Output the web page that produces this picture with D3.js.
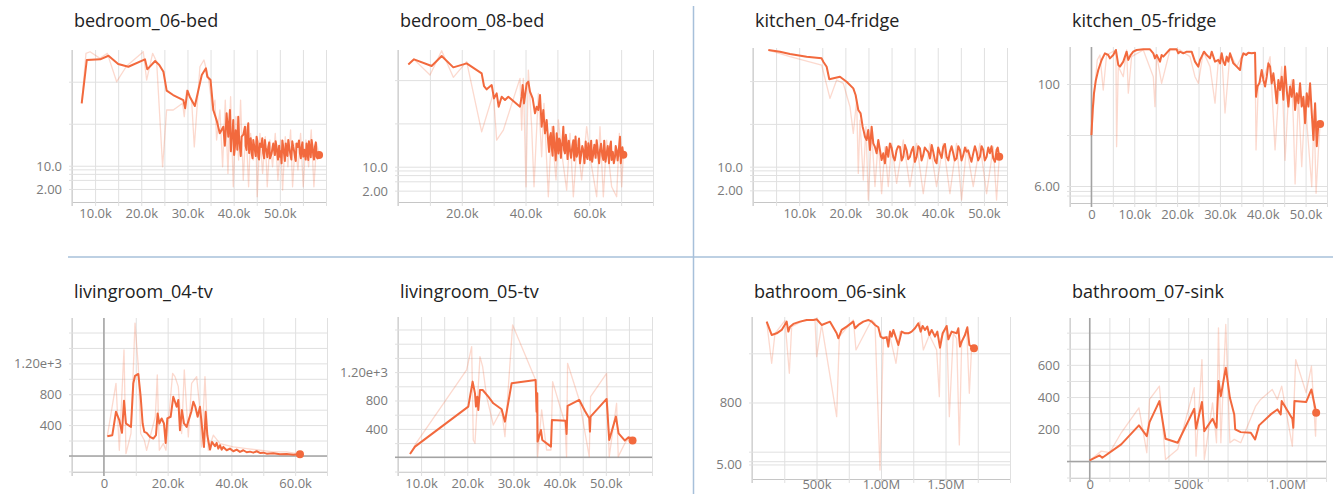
<!DOCTYPE html>
<html>
<head>
<meta charset="utf-8">
<script src="https://cdn.jsdelivr.net/npm/d3@7"></script>
<style>
  html, body { margin: 0; padding: 0; background: #fff; }
  svg { display: block; }
  .title { font-family: "Open Sans", sans-serif; font-size: 18px; fill: #222; }
  .axis text { font-family: "Open Sans", sans-serif; font-size: 13px; fill: #7a7a7a; }
</style>
</head>
<body>
<svg id="chart" width="1333" height="494"></svg>
<script>
// Training curves, steps in thousands. [step (k), value]
const bed06Main = [[7.1,306],[8.2,3290],[11.1,3410],[12.9,4160],[15.0,2640],[17.2,2275],[20.8,3410],[21.3,1970],[23.0,3110],[23.9,2500],[24.8,1730],[25.5,611],[26.9,482],[29.1,366],[29.5,233],[30.0,611],[30.5,440],[31.6,264],[33.1,1445],[34.0,2085],[34.3,1315],[35.0,1096],[35.6,212],[36.3,122],[37.0,59],[37.76,85],[38.48,177],[38.84,49],[39.2,212],[39.56,41],[39.92,122],[40.28,28],[40.64,59],[41.0,147],[41.36,28],[41.72,49],[42.45,85],[42.8,23.7],[43.17,102],[43.53,34],[43.9,19.7],[44.25,41],[44.6,23.7],[44.97,49],[45.33,16.4],[45.7,34],[46.4,19.7],[46.77,41],[47.13,21.5],[47.5,28],[47.86,15],[48.58,34],[48.94,18],[49.3,28],[50.02,16.4],[50.38,11.4],[50.74,28],[51.46,19.7],[51.83,41],[52.19,21.5],[52.9,28],[53.27,16.4],[53.63,34],[54.35,19.7],[54.71,28],[55.07,16.4],[55.8,34],[56.16,13.7],[56.5,26],[56.88,41],[57.24,18],[57.6,28],[57.96,16.4],[58.5,18],
  [38.1,30],[39.0,95],[39.4,22],[39.75,60],[40.1,18],[40.45,70],[40.8,24],[41.2,40],[41.55,17],[42.1,55],[42.6,30],[43.0,70],[43.35,20],[43.7,45],[44.1,15],[44.4,32],[44.8,17],[45.15,38],[45.5,14],[46.0,28],[46.2,45],[46.6,15],[46.95,26],[47.3,16],[47.7,36],[48.2,19],[48.75,24],[49.1,38],[49.6,14],[49.85,30],[50.2,22],[50.55,40],[51.1,13],[51.3,34],[51.65,17],[52.0,30],[52.5,14],[52.7,38],[53.1,22],[53.45,13],[53.9,28],[54.15,40],[54.55,15],[54.9,36],[55.3,24],[55.6,14],[55.95,22],[56.3,38],[56.7,16],[57.05,30],[57.4,14],[57.8,36],[58.2,15]];
const bed06Raw = [[7.09,306],[8.03,4740],[8.9,5170],[11.06,3600],[12.65,4740],[14.67,1000],[16.83,2365],[20.44,5170],[21.16,1096],[22.46,4740],[23.33,2990],[24.62,9.4],[25.49,212],[26.93,212],[28.95,306],[29.31,147],[29.82,634],[30.9,366],[31.48,28],[32.7,2275],[33.57,3290],[34.5,1315],[35.45,212],[35.95,366],[36.31,41],[37.03,212],[37.61,9.4],[38.19,366],[38.77,6.2],[39.34,440],[39.92,2.4],[40.5,147],[41.08,13.7],[41.5,366],[42.08,3.97],[42.66,85],[43.24,2.4],[43.67,59],[44.25,13.7],[44.83,41],[45.11,0.92],[45.69,59],[46.27,6.2],[46.85,49],[47.28,2.4],[47.86,41],[48.43,9.4],[49.01,59],[49.59,3.97],[50.17,41],[50.6,1.81],[51.18,49],[51.75,9.4],[52.33,70.8],[52.76,2.4],[53.34,34],[53.92,7.7],[54.5,59],[55.07,2.4],[55.65,41],[56.23,9.4],[56.8,70.8],[57.38,2.4],[57.96,34],[58.5,18]];

const bed08Main = [[3.24,2307],[5.02,3010],[10.56,2113],[13.7,3600],[17.36,1968],[21.54,2432],[26.25,1430],[26.98,730],[27.82,611],[29.39,769],[30.12,378],[30.95,494],[31.58,243],[32.52,414],[33.57,347],[34.61,414],[38.27,243],[38.8,414],[39.11,769],[39.53,290],[40.37,841],[40.89,918],[41.41,540],[42.25,378],[42.98,171],[43.5,243],[44.03,204],[44.55,452],[45.07,84],[45.59,204],[46.12,59],[46.64,120],[47.16,35],[47.69,49],[48.21,29],[48.73,84],[49.25,24],[49.78,59],[50.3,20.3],[50.82,41],[51.35,29],[51.87,84],[52.39,20.3],[52.92,35],[53.96,24],[55.01,41],[56.05,17],[56.58,29],[57.1,12],[58.14,24],[59.19,17],[59.71,35],[60.24,14.3],[61.28,20.3],[62.33,41],[62.85,17],[63.37,24],[64.42,14.3],[65.46,20.3],[66.51,29],[67.03,14.3],[68.08,17],[68.6,24],[69.65,49],[70.17,20.3],[70.69,19],
  [47.4,22],[47.95,60],[48.5,18],[49.0,40],[49.5,14],[50.05,32],[50.55,45],[51.1,16],[51.6,38],[52.1,24],[52.65,55],[53.2,15],[53.6,40],[54.3,16],[54.7,30],[55.3,14],[55.7,50],[56.3,20],[56.8,45],[57.4,18],[57.8,30],[58.5,12],[58.9,38],[59.45,15],[59.95,28],[60.6,40],[60.9,13],[61.6,32],[62.0,16],[62.6,26],[63.1,12],[63.7,34],[64.1,18],[64.7,40],[65.1,13],[65.8,30],[66.2,12],[66.8,38],[67.4,22],[67.7,12],[68.3,30],[68.9,14],[69.3,26],[69.9,12],[70.4,28]];
const bed08Raw = [[3.24,2307],[5.02,3010],[10.04,1309],[13.7,4770],[17.36,1157],[21.54,2660],[26.25,64],[29.91,494],[30.95,41],[33.05,70],[38.27,1097],[38.8,70],[39.32,1097],[40.16,2.7],[40.89,1707],[41.93,84],[42.67,2.7],[44.03,494],[45.07,17],[45.8,290],[47.16,1.14],[48.21,84],[49.57,4.4],[50.3,120],[51.66,14.3],[52.92,2.1],[53.96,59],[55.01,1.14],[56.26,41],[57.62,4.4],[59.19,84],[60.76,10],[62.33,1.14],[63.37,84],[64.42,1.14],[65.46,41],[67.03,2.7],[68.6,1.14],[69.44,59],[70.17,2.7],[70.69,19]];

const kit04Main = [[3.32,5320],[5.84,4860],[8.01,4290],[11.62,3715],[14.86,3400],[15.22,2840],[15.95,2170],[16.52,1100],[18.83,1267],[20.27,968],[21.72,676],[22.22,472],[22.8,211],[23.3,176],[23.74,86],[24.0,66],[24.24,50],[24.6,42],[24.96,72],[25.32,24.5],[25.69,86],[26.05,35],[26.41,29],[26.77,20.5],[27.13,42],[27.49,24.5],[27.85,14.3],[28.21,20.5],[28.57,12],[28.93,29],[29.29,17],[29.65,35],[30.37,17],[31.1,24.5],[31.82,29],[32.54,17],[33.26,24.5],[33.98,17],[34.7,29],[35.43,17],[36.15,26.7],[36.87,18.6],[37.59,24.5],[38.31,15.6],[39.03,22.4],[39.75,12],[40.48,20.5],[41.2,29],[41.92,17],[42.64,22.4],[43.36,20.5],[44.08,15.6],[44.81,24.5],[45.53,18.6],[46.25,22.4],[46.97,17],[47.69,20.5],[48.41,22.4],[49.13,17],[49.86,24.5],[50.58,17],[51.3,20.5],[52.02,15.6],[52.74,24.5],[53.32,17],
  [30.0,28],[30.7,14],[31.45,30],[32.2,14],[32.9,32],[33.6,15],[34.35,24],[35.05,13],[35.8,30],[36.5,14],[37.2,28],[37.95,22],[38.7,32],[39.4,14],[40.1,28],[40.85,16],[41.55,34],[42.3,14],[43.0,30],[43.7,14],[44.45,30],[45.15,14],[45.9,28],[46.6,24],[47.3,13],[48.05,30],[48.75,14],[49.5,30],[50.2,14],[50.95,28],[51.65,30],[52.4,13],[53.0,28]];
const kit04Raw = [[3.32,5320],[8.01,3715],[14.86,2372],[16.67,395],[18.11,1059],[19.55,885],[21.0,252],[21.72,60],[22.44,361],[22.8,6.6],[23.16,123],[23.88,4.3],[24.46,86],[24.96,0.74],[25.69,72],[26.41,2.7],[27.13,42],[27.85,1.5],[28.57,29],[29.29,2.7],[30.01,35],[31.1,3.4],[32.54,42],[33.98,2.7],[35.43,35],[36.87,1.5],[38.31,35],[39.75,2.7],[41.2,35],[42.64,1.5],[44.08,35],[45.17,0.74],[46.25,29],[47.69,2.7],[49.13,35],[50.58,1.5],[52.02,29],[52.74,0.74],[53.32,17]];

const kit05Main = [[0,10],[0.3,31],[0.6,66],[1.05,120],[1.6,188],[2.38,296],[3.15,399],[3.93,370],[4.32,318],[5.1,370],[5.72,464],[6.27,236],[6.66,219],[7.44,274],[8.22,430],[8.61,296],[9.15,370],[9.77,430],[10.55,464],[12.11,479],[13.67,479],[14.45,399],[14.84,318],[15.23,370],[16.01,274],[16.39,370],[16.78,344],[18.34,479],[19.9,479],[20.29,399],[20.68,430],[21.46,399],[22.24,430],[23.4,430],[24.18,274],[24.96,219],[25.35,296],[25.74,344],[26.29,430],[26.91,370],[27.69,318],[28.08,430],[28.86,274],[29.64,296],[30.03,254],[30.42,399],[30.8,274],[31.19,236],[31.58,344],[31.97,274],[32.36,399],[33.14,254],[33.92,219],[34.7,188],[35.09,318],[35.48,399],[36.1,370],[36.64,410],[37.42,399],[38.2,410],[38.43,56],[38.75,89],[39.21,103],[39.76,188],[40.15,120],[40.54,89],[40.93,139],[41.32,254],[41.71,219],[42.09,103],[42.48,162],[42.87,89],[43.26,42],[43.65,120],[44.04,76],[44.43,139],[44.82,49],[45.21,219],[45.6,76],[45.99,36],[46.38,89],[46.77,56],[47.16,120],[47.55,31],[47.94,66],[48.33,42],[48.71,103],[49.1,36],[49.49,56],[49.88,17],[50.27,66],[50.66,36],[51.05,103],[51.44,27],[51.83,8],[52.22,42],[52.61,6],[53.0,17],[53.39,16.5]];
const kit05Raw = [[0,9.3],[0.82,89],[1.36,296],[1.99,370],[2.76,76],[3.54,370],[5.72,464],[5.88,5.9],[6.27,219],[7.44,139],[8.22,464],[8.61,66],[9.38,344],[12.11,464],[14.45,139],[14.84,36],[15.23,370],[16.39,103],[18.34,464],[20.68,464],[23.01,344],[24.18,139],[24.96,103],[26.13,430],[27.69,219],[28.86,42],[29.64,296],[30.42,399],[31.19,27],[32.36,399],[33.92,219],[35.48,399],[38.2,399],[38.43,5.1],[38.98,103],[40.15,120],[41.71,344],[42.87,5.1],[43.65,56],[44.43,219],[45.21,3.2],[45.99,56],[46.77,120],[47.16,17],[47.55,1.1],[48.33,56],[49.1,2.4],[49.88,49],[50.66,6.9],[51.44,0.97],[51.99,31],[52.45,0.72],[53.0,5.1],[53.39,16.5]];

const liv04Main = [[1.08,256],[2.65,269],[3.8,573],[4.84,464],[5.68,299],[6.31,716],[6.93,421],[7.67,399],[8.5,377],[9.23,941],[9.76,1037],[10.8,1063],[11.54,768],[12.16,421],[12.68,312],[13.41,299],[14.46,247],[15.5,226],[16.35,269],[16.87,551],[17.39,421],[18.12,486],[18.85,421],[19.38,169],[19.9,486],[20.95,508],[21.78,768],[22.31,703],[22.83,638],[23.35,724],[23.87,334],[24.5,594],[25.13,421],[25.97,377],[26.6,464],[27.43,573],[28.06,703],[28.69,638],[29.42,508],[30.15,638],[30.78,377],[31.4,117],[31.93,573],[32.45,269],[33.29,82],[33.92,182],[34.86,126],[35.38,169],[35.9,95],[36.43,139],[36.95,82],[37.47,117],[38.52,74],[39.56,95],[40.61,61],[41.66,82],[42.7,52],[43.75,74],[44.8,48],[45.84,56],[46.89,43],[47.93,61],[48.97,39],[50.02,43],[51.07,30],[53.16,35],[55.25,22],[57.34,26],[59.43,17],[61.52,22]];
const liv04Raw = [[1.08,256],[3.8,941],[4.84,74],[6.31,1375],[6.93,30],[8.5,291],[9.76,1722],[10.8,1158],[11.54,291],[12.68,204],[13.41,74],[16.14,508],[16.76,1050],[17.39,74],[18.65,160],[19.48,74],[21.57,1071],[22.31,1028],[23.35,898],[24.4,291],[25.23,1115],[26.49,247],[27.53,941],[29.1,1028],[29.94,681],[30.67,117],[31.72,1028],[32.76,74],[34.33,269],[36.43,160],[40.61,117],[44.8,95],[48.97,74],[53.16,52],[57.34,52],[61.52,22]];

const liv05Main = [[7.6,47],[8.68,150],[20.22,714],[21.16,1066],[21.67,901],[21.88,714],[22.17,854],[22.39,667],[22.75,948],[23.33,948],[24.55,854],[25.64,761],[27.44,676],[28.16,502],[29.6,1042],[34.8,1089],[35.01,643],[35.16,901],[35.23,221],[35.95,385],[36.24,244],[38.12,150],[38.33,526],[41.29,516],[41.5,329],[41.72,723],[44.25,808],[45.48,653],[46.41,549],[46.56,362],[46.7,573],[50.17,822],[50.74,244],[52.19,573],[52.76,338],[54.13,235],[54.93,282],[55.79,235]];
const liv05Raw = [[7.6,47],[8.9,197],[19.86,1230],[20.95,1559],[21.3,244],[21.67,197],[22.75,1418],[23.33,1277],[24.19,854],[25.64,455],[27.44,676],[28.16,291],[29.82,1864],[34.8,1089],[35.23,9],[36.1,667],[37.18,103],[38.12,103],[38.48,1066],[41.15,479],[41.5,9],[41.72,1324],[44.25,808],[46.41,9],[46.7,854],[50.17,1183],[50.74,9],[52.33,761],[52.69,9],[54.13,197],[55.22,291],[55.79,235]];

const bath06Main = [[113.7,4400],[152.5,2360],[191.2,2550],[230,2985],[268.7,4400],[281.7,2760],[294.6,3480],[320.4,3955],[372.1,4400],[423.8,4760],[475.5,4760],[501.3,4920],[540,3770],[604.7,4400],[656.3,2550],[669.3,2020],[695.1,2985],[733.9,3480],[785.5,4400],[798.4,3220],[824.3,3770],[863,4400],[901.8,4760],[927.6,4400],[953.5,3770],[979.3,3380],[997.4,2180],[1018,2020],[1043.9,2115],[1056.8,1367],[1069.8,2760],[1082.7,2180],[1095.6,2985],[1134.4,1476],[1160.2,2760],[1186,2550],[1211.9,2550],[1237.7,2760],[1263.6,3220],[1289.4,4070],[1307.5,2760],[1323,3600],[1341.1,2985],[1359.2,3480],[1374.7,2360],[1392.8,2985],[1418.6,2180],[1436.7,2760],[1457.4,1303],[1478,2550],[1509,3600],[1522,1927],[1547.8,2760],[1586.6,2550],[1599.5,3220],[1612.4,1367],[1625.3,1726],[1651.2,2360],[1669.3,3380],[1684.8,1476],[1702.8,1367],[1720.9,1264]];
const bath06Raw = [[113.7,4400],[152.5,627],[178.3,2550],[255.8,4615],[289.4,392],[307.5,3480],[397.9,4615],[488.4,4760],[501.3,855],[540,3770],[656.3,51.5],[677,2180],[785.5,4760],[806.2,1170],[927.6,4760],[953.5,4070],[992.2,3.6],[1018,2180],[1069.8,2180],[1116.3,627],[1147.3,2760],[1224.8,2550],[1302.3,4400],[1328.2,1170],[1374.7,2360],[1431.5,1170],[1452.2,131],[1462.5,1927],[1509,3480],[1529.7,51.5],[1560.7,2550],[1586.6,2020],[1607.2,13.7],[1625.3,1600],[1664.1,3220],[1684.8,154],[1702.8,1367],[1720.9,1264]];

const bath07Main = [[0,6],[50.6,37],[64,23],[160,106],[250,224],[290,157],[304,244],[354,375],[385,141],[447,116],[531,327],[540,203],[570,369],[582,188],[624,265],[644,209],[654,499],[666,406],[691,582],[712,395],[734,292],[739,199],[767,182],[818,178],[840,137],[860,224],[919,292],[953,323],[970,292],[975,375],[1029,265],[1034,209],[1040,375],[1099,369],[1126,447],[1150,302]];
const bath07Raw = [[0,6],[59,64],[101,54],[160,178],[250,333],[290,54],[304,385],[354,468],[385,12],[447,75],[531,458],[540,33],[570,633],[582,12],[624,364],[644,116],[654,830],[666,116],[691,851],[712,116],[734,137],[767,116],[843,344],[868,385],[927,447],[953,385],[975,468],[1029,95],[1046,633],[1099,427],[1126,592],[1147,157],[1150,302]];

// Axis ticks (steps in thousands) and labels
const xLabels = {
  bed06: [10, 20, 30, 40, 50],
  bed08: [20, 40, 60],
  kit04: [10, 20, 30, 40, 50],
  kit05: [0, 10, 20, 30, 40, 50],
  liv04: [0, 20, 40, 60],
  liv05: [10, 20, 30, 40, 50],
  bath06: [500, 1000, 1500],
  bath07: [0, 500, 1000]
};
const yGrid = {
  bed06: [1000, 100, 10, 8, 6, 4, 2],
  bed08: [1000, 100, 10, 8, 6, 4, 2],
  kit04: [1000, 100, 10, 8, 6, 4, 2],
  kit05: [100, 10, 1, 0.8, 0.65],
  liv04: [-200, 0, 200, 400, 600, 800, 1000, 1200, 1400, 1600],
  liv05: [-200, 0, 200, 400, 600, 800, 1000, 1200, 1400, 1600, 1800],
  bath06: [1000, 100, 10, 6, 5],
  bath07: [-100, 0, 100, 200, 300, 400, 500, 600, 700, 800]
};
const yLabelAt = {
  bed06: [10, 2], bed08: [10, 2], kit04: [10, 2], kit05: [100, 1],
  liv04: [1200, 800, 400], liv05: [1200, 800, 400], bath06: [100, 5], bath07: [600, 400, 200]
};
const yLabelText = {
  bed06: ["10.0", "2.00"], bed08: ["10.0", "2.00"], kit04: ["10.0", "2.00"], kit05: ["100", "6.00"],
  liv04: ["1.20e+3", "800", "400"], liv05: ["1.20e+3", "800", "400"], bath06: ["800", "5.00"], bath07: ["600", "400", "200"]
};

// Layout of the eight small multiples
const panels = [
  { key: "bed06", title: "bedroom_06-bed", main: bed06Main, raw: bed06Raw, box: [72, 50, 326, 202], titleY: 27, xPad: 7, xDomain: [5, 60], xStep: 5, yType: "modlog", yDomain: [0.41, 5690] },
  { key: "bed08", title: "bedroom_08-bed", main: bed08Main, raw: bed08Raw, box: [398, 50, 653, 202], titleY: 27, xPad: 7, xDomain: [0, 80], xStep: 10, yType: "modlog", yDomain: [0.59, 4955] },
  { key: "kit04", title: "kitchen_04-fridge", main: kit04Main, raw: kit04Raw, box: [753, 48, 1007, 202], titleY: 27, xPad: 7, xDomain: [0, 55], xStep: 5, yType: "modlog", yDomain: [0.55, 5930] },
  { key: "kit05", title: "kitchen_05-fridge", main: kit05Main, raw: kit05Raw, box: [1070, 47, 1327, 203], titleY: 27, xPad: 7, xDomain: [-5, 55], xStep: 5, yType: "log", yDomain: [0.464, 531] },
  { key: "liv04", title: "livingroom_04-tv", main: liv04Main, raw: liv04Raw, box: [72, 318, 327, 472], titleY: 298, xPad: 7, xDomain: [-10, 70], xStep: 10, yType: "linear", yDomain: [-208, 1788] },
  { key: "liv05", title: "livingroom_05-tv", main: liv05Main, raw: liv05Raw, box: [398, 317, 652, 472], titleY: 298, xPad: 7, xDomain: [5, 60], xStep: 5, yType: "linear", yDomain: [-207, 1976] },
  { key: "bath06", title: "bathroom_06-sink", main: bath06Main, raw: bath06Raw, box: [752, 317, 1010, 479], titleY: 298, xPad: 1, xDomain: [0, 2000], xStep: 250, yType: "modlog", yDomain: [1.98, 5470] },
  { key: "bath07", title: "bathroom_07-sink", main: bath07Main, raw: bath07Raw, box: [1070, 318, 1326, 478], titleY: 298, xPad: 2, xDomain: [-100, 1200], xStep: 100, yType: "linear", yDomain: [-103, 891] }
];

const LINE = "#f2693d";
const svg = d3.select("#chart");

// log scale that stays linear-ish below 10 and handles zero/negatives
const modlog = v => {
  const s = v < 0 ? -1 : 1;
  let a = Math.abs(v);
  if (a < 10) a += (10 - a) / 10;
  return s * Math.log10(a);
};

const fmtStep = k => k === 0 ? "0" : k >= 1000 ? (k / 1000).toFixed(2) + "M" : k >= 100 ? k + "k" : k.toFixed(1) + "k";

// section dividers
svg.append("line").attr("x1", 693.5).attr("x2", 693.5).attr("y1", 6).attr("y2", 494)
  .attr("stroke", "#a7c0da").attr("stroke-width", 1.5);
svg.append("line").attr("x1", 68).attr("x2", 1333).attr("y1", 257).attr("y2", 257)
  .attr("stroke", "#a7c0da").attr("stroke-width", 1.5);

panels.forEach((p, idx) => {
  const [x0, y0, x1, y1] = p.box;
  const g = svg.append("g");
  const mainSeries = d3.sort(p.main, d => d[0]);
  const rawSeries = d3.sort(p.raw, d => d[0]);

  const x = d3.scaleLinear().domain(p.xDomain).range([x0, x1]);
  let yAxisScale, yPos, yTicks;
  const grid = yGrid[p.key];
  if (p.yType === "linear") {
    yAxisScale = d3.scaleLinear().domain(p.yDomain).range([y1, y0]);
    yPos = v => yAxisScale(v);
    yTicks = grid;
  } else if (p.yType === "log") {
    yAxisScale = d3.scaleLog().domain(p.yDomain).range([y1, y0]);
    yPos = v => yAxisScale(v);
    yTicks = grid;
  } else {
    yAxisScale = d3.scaleLinear().domain(p.yDomain.map(modlog)).range([y1, y0]);
    yPos = v => yAxisScale(modlog(v));
    yTicks = grid.map(modlog);
  }

  g.append("text").attr("class", "title").attr("x", x0 + 2).attr("y", p.titleY).text(p.title);

  // vertical grid + x labels
  const xTicks = d3.range(p.xDomain[0], p.xDomain[1] + 1e-6, p.xStep).map(v => Math.round(v * 1000) / 1000);
  const labs = xLabels[p.key];
  const xa = g.append("g").attr("class", "axis").attr("transform", `translate(0,${y1})`)
    .call(d3.axisBottom(x).tickValues(xTicks).tickSizeInner(-(y1 - y0)).tickSizeOuter(0).tickPadding(p.xPad)
      .tickFormat(v => labs.includes(v) ? fmtStep(v) : ""));
  xa.selectAll(".tick line").attr("stroke", "#e0e0e0").attr("y1", 4);
  xa.select(".domain").attr("stroke", "#c6c6c6");

  // horizontal grid + y labels
  const lAt = yLabelAt[p.key], lTx = yLabelText[p.key];
  const ya = g.append("g").attr("class", "axis").attr("transform", `translate(${x0},0)`)
    .call(d3.axisLeft(yAxisScale).tickValues(yTicks).tickSizeInner(-(x1 - x0)).tickSizeOuter(0).tickPadding(10)
      .tickFormat((d, i) => { const j = lAt.indexOf(grid[i]); return j >= 0 ? lTx[j] : ""; }));
  ya.selectAll(".tick line").attr("stroke", "#e0e0e0").attr("x1", -3);
  ya.selectAll(".tick text").attr("dy", "0.34em");
  ya.select(".domain").attr("stroke", "#c6c6c6").attr("d", `M0,${y0}V${y1 + 4}`);

  // zero lines
  if (p.xDomain[0] < 0 && p.xDomain[1] > 0) {
    g.append("line").attr("x1", x(0)).attr("x2", x(0)).attr("y1", y0).attr("y2", y1 + 4)
      .attr("stroke", "#a3a3a3").attr("stroke-width", 1.5);
  }
  if (p.yType === "linear" && p.yDomain[0] < 0) {
    g.append("line").attr("x1", x0 - 3).attr("x2", x1).attr("y1", yPos(0)).attr("y2", yPos(0))
      .attr("stroke", "#a3a3a3").attr("stroke-width", 1.5);
  }

  const clipId = "clip" + idx;
  g.append("clipPath").attr("id", clipId).append("rect")
    .attr("x", x0).attr("y", y0 - 2).attr("width", x1 - x0).attr("height", y1 - y0 + 2);

  const line = d3.line().x(d => x(d[0])).y(d => yPos(d[1]));
  const plot = g.append("g").attr("clip-path", `url(#${clipId})`);
  plot.append("path").datum(rawSeries).attr("d", line)
    .attr("fill", "none").attr("stroke", LINE).attr("stroke-opacity", 0.25).attr("stroke-width", 1.3)
    .attr("stroke-linejoin", "round");
  plot.append("path").datum(mainSeries).attr("d", line)
    .attr("fill", "none").attr("stroke", LINE).attr("stroke-width", 2).attr("stroke-linejoin", "round");
  const last = mainSeries[mainSeries.length - 1];
  g.append("circle").attr("cx", x(last[0])).attr("cy", yPos(last[1])).attr("r", 4).attr("fill", LINE);
});
</script>
</body>
</html>
